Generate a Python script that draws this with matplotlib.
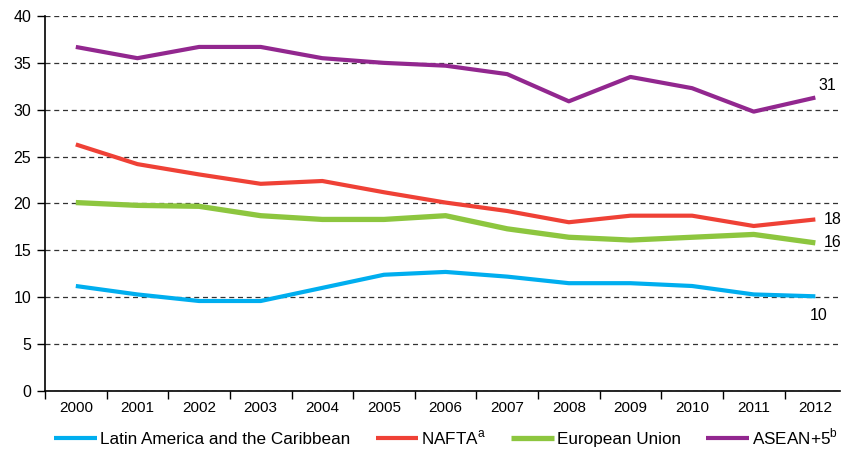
import matplotlib
matplotlib.use("Agg")
import matplotlib.pyplot as plt
import numpy as np

years = [str(y) for y in range(2000, 2013)]
lac = [11.2, 10.3, 9.6, 9.6, 11.0, 12.4, 12.7, 12.2, 11.5, 11.5, 11.2, 10.3, 10.1]
nafta = [26.3, 24.2, 23.1, 22.1, 22.4, 21.2, 20.1, 19.2, 18.0, 18.7, 18.7, 17.6, 18.3]
eu = [20.1, 19.8, 19.7, 18.7, 18.3, 18.3, 18.7, 17.3, 16.4, 16.1, 16.4, 16.7, 15.8]
asean = [36.7, 35.5, 36.7, 36.7, 35.5, 35.0, 34.7, 33.8, 30.9, 33.5, 32.3, 29.8, 31.3]
series_names = ["Latin America and the Caribbean", "NAFTA$^{\\mathrm{a}}$", "European Union", "ASEAN+5$^{\\mathrm{b}}$"]
end_labels = ["10", "18", "16", "31"]
colors = ["#00AEEF", "#EF4136", "#8DC63F", "#92278F"]

plt.rcParams['font.family'] = ['Liberation Sans', 'DejaVu Sans']
plt.rcParams['mathtext.fontset'] = 'custom'
plt.rcParams['mathtext.rm'] = 'Liberation Sans'

fig = plt.figure(figsize=(8.43, 4.57), dpi=100)
ax = fig.add_axes([45/843, 66/457, (840-45)/843, (391-16)/457])

x = np.arange(len(years))
data = [lac, nafta, eu, asean]
lws = [3.0, 3.0, 3.8, 3.0]
for vals, name, c, lw in zip(data, series_names, colors, lws):
    ax.plot(x, vals, color=c, lw=lw, label=name, solid_capstyle='butt')

offsets = [(-4, -14), (6, 0), (6, 0), (2, 9)]
for vals, lab, off in zip(data, end_labels, offsets):
    ax.annotate(lab, (x[-1], vals[-1]), xytext=off, textcoords='offset points',
                fontsize=11.5, ha='left', va='center')

ax.set_xlim(-0.5, 12.4)
ax.set_ylim(0, 40)
ax.set_yticks(range(0, 41, 5))
ax.yaxis.grid(True, linestyle=(0, (4, 3)), color='#333333', lw=0.9)
ax.set_axisbelow(True)
ax.set_xticks(x)
ax.set_xticklabels(years)
ax.set_xticks(np.arange(-0.5, 12.5, 1), minor=True)
ax.tick_params(axis='x', which='major', length=0, labelsize=11, pad=7)
ax.tick_params(axis='x', which='minor', length=6, width=1, direction='out')
ax.tick_params(axis='y', length=6, width=1, labelsize=11.5, pad=4)
for s in ['top', 'right']:
    ax.spines[s].set_visible(False)
for s in ['left', 'bottom']:
    ax.spines[s].set_linewidth(1.2)
    ax.spines[s].set_color('black')

fig.legend(loc='lower center', ncol=4, frameon=False, fontsize=12.3,
           bbox_to_anchor=(0.529, -0.012), handlelength=2.5, handletextpad=0.15,
           columnspacing=1.5)

fig.savefig("out.png", dpi=100)
